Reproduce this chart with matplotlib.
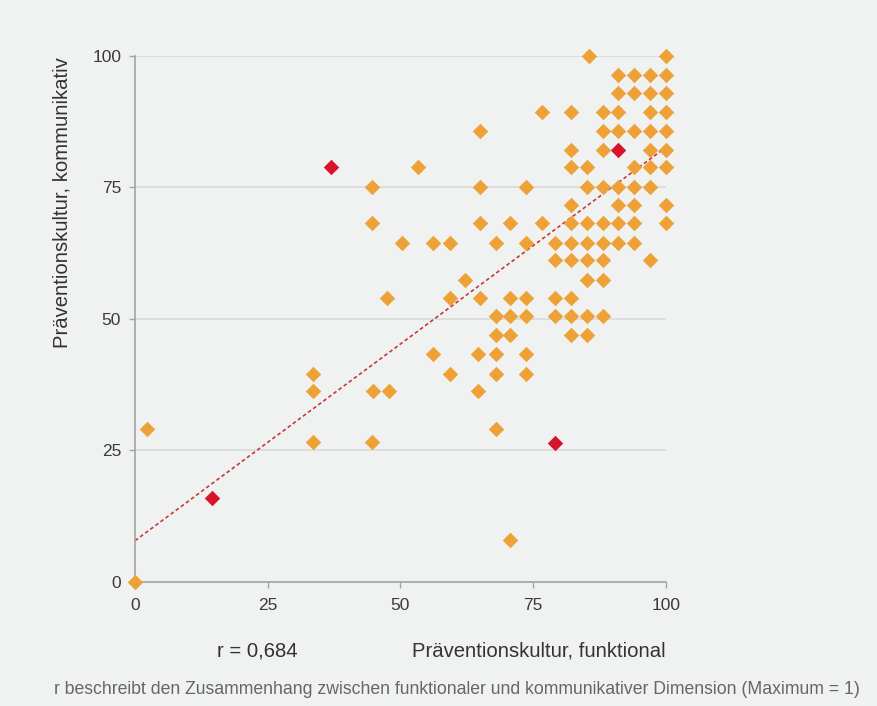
import numpy as np
import matplotlib
matplotlib.use("Agg")
import matplotlib.pyplot as plt

plt.rcParams['font.family'] = ['Liberation Sans', 'DejaVu Sans']

# Präventionskultur funktional (x) / kommunikativ (y), orange points
x_orange = [85.5, 100,
            91.1, 94.1, 97.0, 100,
            91.1, 94.1, 97.0, 100,
            76.6, 82.1, 88.1, 91.1, 97.0, 100,
            65.0, 88.1, 91.1, 94.1, 97.0, 100,
            82.1, 88.1, 97.0, 100,
            53.4, 82.1, 85.1, 94.1, 97.0, 100,
            44.7, 65.0, 73.7, 85.1, 88.1, 91.1, 94.1, 97.0,
            82.1, 91.1, 94.1, 100,
            44.7, 65.0, 70.7, 76.6, 82.1, 85.1, 88.1, 91.1, 94.1, 100,
            50.3, 56.2, 59.4, 68.0, 73.7, 79.1, 82.1, 85.1, 88.1, 91.1, 94.1,
            79.1, 82.1, 85.1, 88.1, 97.0,
            62.2, 85.1, 88.1,
            47.5, 59.4, 65.0, 70.7, 73.7, 79.1, 82.1,
            68.0, 70.7, 73.7, 79.1, 82.1, 85.1, 88.1,
            68.0, 70.7, 82.1, 85.1,
            56.2, 64.7, 68.0, 73.7,
            33.6, 59.4, 68.0, 73.7,
            33.6, 44.8, 47.8, 64.7,
            2.3, 68.0,
            33.5, 44.7,
            70.7,
            0.0]
y_orange = [100, 100,
            96.4, 96.4, 96.4, 96.4,
            92.9, 92.9, 92.9, 92.9,
            89.4, 89.4, 89.4, 89.4, 89.4, 89.4,
            85.8, 85.8, 85.8, 85.8, 85.8, 85.8,
            82.2, 82.2, 82.2, 82.2,
            78.8, 78.8, 78.8, 78.8, 78.8, 78.8,
            75.1, 75.1, 75.1, 75.1, 75.1, 75.1, 75.1, 75.1,
            71.7, 71.7, 71.7, 71.7,
            68.2, 68.2, 68.2, 68.2, 68.2, 68.2, 68.2, 68.2, 68.2, 68.2,
            64.5, 64.5, 64.5, 64.5, 64.5, 64.5, 64.5, 64.5, 64.5, 64.5, 64.5,
            61.1, 61.1, 61.1, 61.1, 61.1,
            57.4, 57.4, 57.4,
            53.9, 53.9, 53.9, 53.9, 53.9, 53.9, 53.9,
            50.5, 50.5, 50.5, 50.5, 50.5, 50.5, 50.5,
            46.9, 46.9, 46.9, 46.9,
            43.4, 43.4, 43.4, 43.4,
            39.6, 39.6, 39.6, 39.6,
            36.3, 36.3, 36.3, 36.3,
            29.0, 29.0,
            26.5, 26.5,
            7.9,
            0.0]

# highlighted points (red)
x_red = [36.9, 91.1, 14.5, 79.1]
y_red = [78.8, 82.2, 15.9, 26.4]

# trend line
trend_intercept = 7.8
trend_slope = 0.748

r_text = "r = 0,684"
xlabel = "Präventionskultur, funktional"
ylabel = "Präventionskultur, kommunikativ"
footnote = "r beschreibt den Zusammenhang zwischen funktionaler und kommunikativer Dimension (Maximum = 1)"
ticks = [0, 25, 50, 75, 100]

bg = '#f0f1f1'
orange = '#eea136'
red = '#d7142b'

fig = plt.figure(figsize=(8.78, 7.06), dpi=100, facecolor=bg)
ax = fig.add_axes([0.1538, 0.1761, 0.6044, 0.7446])
ax.set_facecolor(bg)

ax.set_xlim(0, 100)
ax.set_ylim(0, 100)
ax.set_xticks(ticks)
ax.set_yticks(ticks)
ax.grid(axis='y', color='#d9dbdb', linewidth=1.2)
ax.set_axisbelow(True)

for side in ['top', 'right']:
    ax.spines[side].set_visible(False)
for side in ['left', 'bottom']:
    ax.spines[side].set_color('#a3a5a5')
    ax.spines[side].set_linewidth(1.2)

ax.tick_params(axis='both', colors='#a3a5a5', labelcolor='#3a3a3a',
               labelsize=12.5, length=4, width=1.0, direction='out')
ax.tick_params(axis='x', pad=8)
ax.tick_params(axis='y', pad=6)

# trend line
xs = np.array([0, 100])
ax.plot(xs, trend_intercept + trend_slope * xs, color='#c8383a',
        linewidth=1.2, linestyle=(0, (2.2, 1.6)), zorder=2)

ax.scatter(x_orange, y_orange, marker='D', s=62, color=orange,
           linewidths=0, zorder=3, clip_on=False)
ax.scatter(x_red, y_red, marker='D', s=62, color=red,
           linewidths=0, zorder=4, clip_on=False)

fig.text(62 / 878, 1 - 348 / 706, ylabel, rotation=90, ha='center',
         va='bottom', fontsize=14.6, color='#333333')
fig.text(666 / 878, 1 - 651 / 706, xlabel, ha='right', va='center',
         fontsize=14.6, color='#333333')
fig.text(257 / 878, 1 - 651 / 706, r_text, ha='center', va='center',
         fontsize=14.6, color='#333333')
fig.text(457 / 878, 1 - 690 / 706, footnote, ha='center', va='center',
         fontsize=12.7, color='#666666')

fig.savefig('out.png', dpi=100, facecolor=bg)
